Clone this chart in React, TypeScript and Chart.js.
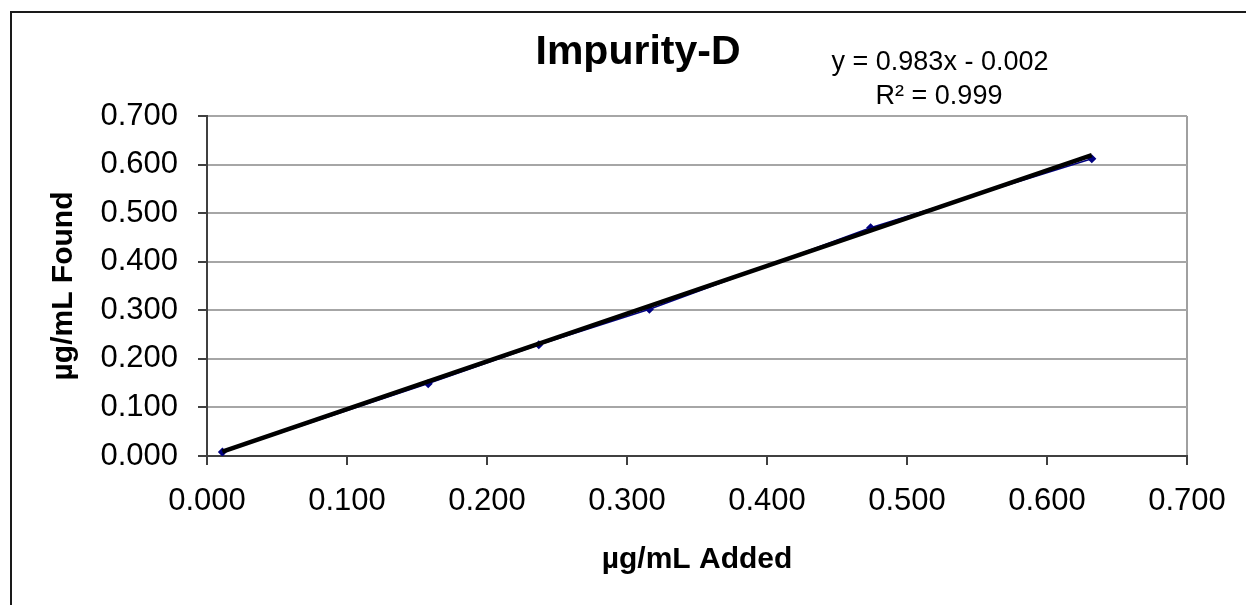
import React, { useEffect, useRef } from 'react';
import { Chart, registerables } from 'chart.js';

Chart.register(...registerables);

const chartTitle = 'Impurity-D';
const xAxisTitle = 'µg/mL Added';
const yAxisTitle = 'µg/mL Found';
const addedX = [0.011, 0.158, 0.237, 0.316, 0.474, 0.632];
const foundY = [0.008, 0.149, 0.229, 0.302, 0.470, 0.612];
const slope = 0.983;
const intercept = -0.002;
const rSquaredText = 'R² = 0.999';
const equationText = 'y = 0.983x - 0.002';
const axisMin = 0;
const axisMax = 0.7;
const axisStep = 0.1;

const FONT = "'Liberation Sans', Arial, sans-serif";

export default function App() {
  const canvasRef = useRef<HTMLCanvasElement | null>(null);

  useEffect(() => {
    const canvas = canvasRef.current;
    if (!canvas) return;

    const points = addedX.map((x, i) => ({ x, y: foundY[i] }));
    const xFirst = addedX[0];
    const xLast = addedX[addedX.length - 1];
    const trend = [
      { x: xFirst, y: slope * xFirst + intercept },
      { x: xLast, y: slope * xLast + intercept },
    ];

    const textPlugin = {
      id: 'textPlugin',
      afterDraw(chart: any) {
        const ctx = chart.ctx as CanvasRenderingContext2D;
        const area = chart.chartArea;
        ctx.save();
        // outer chart border
        ctx.strokeStyle = '#1a1a1a';
        ctx.lineWidth = 2;
        ctx.beginPath();
        ctx.moveTo(11, 605);
        ctx.lineTo(11, 12);
        ctx.lineTo(1246, 12);
        ctx.stroke();

        ctx.fillStyle = '#000';
        ctx.textAlign = 'center';
        ctx.textBaseline = 'middle';
        ctx.font = `bold 41px ${FONT}`;
        ctx.fillText(chartTitle, 638, 53);

        ctx.font = `27px ${FONT}`;
        ctx.fillText(equationText, 940, 63);
        ctx.fillText(rSquaredText, 939, 97);

        ctx.font = `bold 30px ${FONT}`;
        ctx.fillText(xAxisTitle, (area.left + area.right) / 2, 560);

        ctx.translate(64, (area.top + area.bottom) / 2);
        ctx.rotate(-Math.PI / 2);
        ctx.fillText(yAxisTitle, 0, 0);
        ctx.restore();
      },
    };

    const near = (v: number, t: number) => Math.abs(v - t) < 1e-6;

    const chart = new Chart(canvas, {
      type: 'scatter',
      data: {
        datasets: [
          {
            label: 'Trend',
            data: trend,
            showLine: true,
            borderColor: '#000000',
            borderWidth: 4.5,
            pointRadius: 0,
            order: 0,
          },
          {
            label: 'Data',
            data: points,
            showLine: true,
            borderColor: '#000080',
            backgroundColor: '#000080',
            borderWidth: 1.5,
            pointStyle: 'rectRot',
            pointRadius: 3.5,
            order: 1,
          },
        ],
      },
      options: {
        animation: false,
        responsive: true,
        maintainAspectRatio: false,
        layout: { padding: { left: 0, right: 59, top: 116, bottom: 0 } },
        plugins: {
          legend: { display: false },
          tooltip: { enabled: false },
          title: { display: false },
        },
        scales: {
          x: {
            type: 'linear',
            min: axisMin,
            max: axisMax,
            afterFit: (scale: any) => {
              scale.height = 149;
            },
            ticks: {
              stepSize: axisStep,
              color: '#000',
              font: { family: FONT, size: 31 },
              padding: 18,
              maxRotation: 0,
              callback: (v: any) => Number(v).toFixed(3),
            },
            grid: {
              color: (c: any) => (c.tick && near(c.tick.value, axisMax) ? '#a0a0a0' : 'rgba(0,0,0,0)'),
              lineWidth: 2,
              tickLength: 9,
              tickColor: '#404040',
              tickWidth: 2,
            },
            border: { color: '#404040', width: 2 },
          },
          y: {
            type: 'linear',
            min: axisMin,
            max: axisMax,
            afterFit: (scale: any) => {
              scale.width = 207;
            },
            ticks: {
              stepSize: axisStep,
              color: '#000',
              font: { family: FONT, size: 31 },
              padding: 20,
              callback: (v: any) => Number(v).toFixed(3),
            },
            grid: {
              color: '#a6a6a6',
              lineWidth: 2,
              tickLength: 9,
              tickColor: '#404040',
              tickWidth: 2,
            },
            border: { color: '#404040', width: 2 },
          },
        },
      },
      plugins: [textPlugin],
    } as any);

    return () => chart.destroy();
  }, []);

  return (
    <div style={{ position: 'fixed', left: 0, top: 0, width: 1246, height: 605, background: '#fff' }}>
      <canvas ref={canvasRef} />
    </div>
  );
}
